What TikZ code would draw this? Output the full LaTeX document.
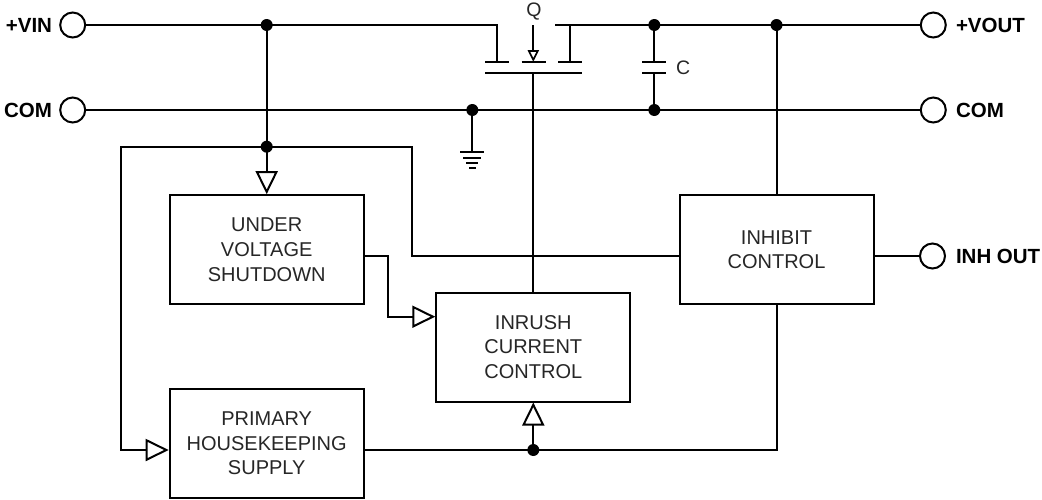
\documentclass[tikz,border=0pt]{standalone}
\usepackage{fontspec}
\setmainfont{Liberation Sans}
\usetikzlibrary{arrows.meta}
\begin{document}
\begin{tikzpicture}[x=1pt,y=-1pt,line width=2pt,line cap=butt,
  blk/.style={draw,line width=2pt,align=center,inner sep=0pt,
    minimum width=194pt,minimum height=109pt,
    font=\fontsize{20}{24.8}\selectfont,text=black!85},
  term/.style={draw,circle,minimum size=25pt,inner sep=0pt,line width=2pt},
  lbl/.style={inner sep=0pt,font=\fontsize{20.5}{24}\selectfont\bfseries},
  slbl/.style={inner sep=0pt,font=\fontsize{19.5}{22}\selectfont,text=black!85},
  jdot/.style={circle,fill,minimum size=12pt,inner sep=0pt},
  inarr/.style={-{Triangle[open,length=23pt,width=22pt,line width=2pt]}},
  qarr/.style={-{Triangle[open,length=11.5pt,width=11pt,line width=1.6pt]}},
]
\useasboundingbox (0,0) rectangle (1042,499);

% terminals
\node[term] (vin)  at (72.7,25) {};
\node[term] (coml) at (72.7,110) {};
\node[term] (vout) at (933.3,25) {};
\node[term] (comr) at (933.3,110) {};
\node[term] (inh)  at (932.5,256) {};
\node[lbl,anchor=east] (tvin)  at (53,25) {+VIN};
\node[lbl,anchor=east] (tcoml) at (53,110) {COM};
\node[lbl,anchor=west] (tvout) at (955,25) {+VOUT};
\node[lbl,anchor=west] (tcomr) at (955,110) {COM};
\node[lbl,anchor=west] (tinh)  at (955,256) {INH OUT};

% blocks
\node[blk] (uvs)  at (266.7,249.7) {UNDER\\VOLTAGE\\SHUTDOWN};
\node[blk] (prim) at (266.7,443.4) {PRIMARY\\HOUSEKEEPING\\SUPPLY};
\node[blk] (inr)  at (533.3,347)   {INRUSH\\CURRENT\\CONTROL};
\node[blk] (inhb) at (776.5,249.7) {INHIBIT\\CONTROL};

% helper coordinates
\coordinate (y256) at (0,256);
\coordinate (y317) at (0,316.7);
\coordinate (y450) at (0,450);
\coordinate (jvin) at (266.7,25);
\coordinate (jloop) at (266.7,146.7);
\coordinate (jgnd) at (472.3,110);
\coordinate (jct) at (654.3,25);
\coordinate (jcb) at (654.3,110);
\coordinate (jinh) at (776.5,25);
\coordinate (jbot) at (533.3,450);
\coordinate (dl) at (497.3,61.7);
\coordinate (dr) at (570,61.7);
\coordinate (gate) at (533.3,73.3);

% MOSFET Q
\node[slbl] (q) at (534,12) {Q};
\draw (vin.east) -- (497.3,25) -- (dl);
\draw (485,61.7) -- (509,61.7);
\draw (521.7,61.7) -- (546,61.7);
\draw (558.3,61.7) -- (581.7,61.7);
\draw[qarr] (533.3,25) -- (533.3,61.7);
\draw (dr) -- (570,25);
\draw (555,25) -- (vout.west);
\draw (485,73.3) -- (581.7,73.3);
\draw (gate) -- (inr.north);

% COM line
\draw (coml.east) -- (comr.west);

% capacitor C
\draw (jct) -- (654.3,61.7);
\draw (642.3,61.7) -- (666.3,61.7);
\draw (642.3,73.3) -- (666.3,73.3);
\draw (654.3,73.3) -- (jcb);
\node[slbl,anchor=west] (c) at (675,67.5) {C};

% ground
\draw (jgnd) -- (472.3,152.3);
\draw (460.3,152.3) -- (484.3,152.3);
\draw (463.3,157.6) -- (481.3,157.6);
\draw (466.3,162.8) -- (478.3,162.8);
\draw (469,168) -- (475.6,168);

% input distribution
\draw (jvin) -- (jloop);
\draw[inarr] (jloop) -- (uvs.north);
\draw[inarr] (jloop) -- (120.7,146.7) -- (120.7,450) -- (prim.west |- y450);
\draw (jloop) -- (412.3,146.7) -- (412.3,256) -- (inhb.west |- y256);
\draw[inarr] (uvs.east |- y256) -- (388,256) -- (388,316.7) -- (inr.west |- y317);
\draw (inhb.east |- y256) -- (inh.west);

% inhibit control connections
\draw (jinh) -- (inhb.north);
\draw (prim.east |- y450) -- (776.5,450) -- (inhb.south);
\draw[inarr] (jbot) -- (inr.south);

% junction dots
\foreach \p in {jvin,jloop,jgnd,jct,jcb,jinh,jbot}
  \node[jdot] at (\p) {};
\end{tikzpicture}
\end{document}
